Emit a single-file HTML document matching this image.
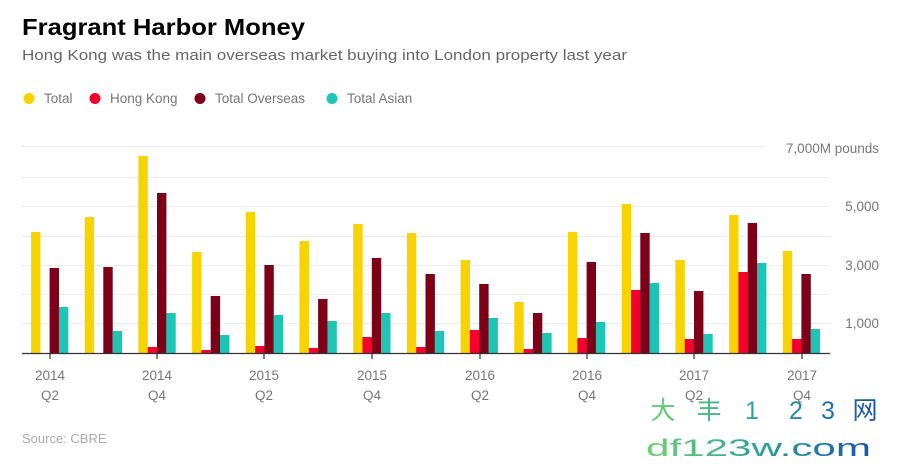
<!DOCTYPE html>
<html><head><meta charset="utf-8"><style>
html,body{margin:0;padding:0;background:#fff;width:899px;height:471px;overflow:hidden}
svg{display:block;font-family:"Liberation Sans","Noto Sans CJK SC",sans-serif}
</style></head><body>
<svg width="899" height="471" viewBox="0 0 899 471" xmlns="http://www.w3.org/2000/svg">
<defs><linearGradient id="wg" x1="645" x2="880" y1="0" y2="0" gradientUnits="userSpaceOnUse"><stop offset="0" stop-color="#6fd36a"/><stop offset="0.5" stop-color="#2aa0a0"/><stop offset="1" stop-color="#1a4fb0"/></linearGradient></defs>
<text x="22" y="35" font-size="23" font-weight="bold" fill="#000" textLength="283" lengthAdjust="spacingAndGlyphs">Fragrant Harbor Money</text>
<text x="22" y="60" font-size="15" fill="#666" textLength="605" lengthAdjust="spacingAndGlyphs">Hong Kong was the main overseas market buying into London property last year</text>
<g font-size="13.5" fill="#777">
<circle cx="29" cy="98.5" r="5.5" fill="#f7d300"/><text x="44" y="103">Total</text>
<circle cx="95" cy="98.5" r="5.5" fill="#f5002d"/><text x="110" y="103">Hong Kong</text>
<circle cx="200" cy="98.5" r="5.5" fill="#7d0018"/><text x="215" y="103">Total Overseas</text>
<circle cx="332" cy="98.5" r="5.5" fill="#1cc5b4"/><text x="347" y="103">Total Asian</text>
</g>
<g stroke="#ececec" stroke-width="1">
<line x1="22" x2="765" y1="146.5" y2="146.5"/>
<line x1="22" x2="830" y1="177.5" y2="177.5"/>
<line x1="22" x2="830" y1="206.5" y2="206.5"/>
<line x1="22" x2="830" y1="236.5" y2="236.5"/>
<line x1="22" x2="830" y1="265.5" y2="265.5"/>
<line x1="22" x2="830" y1="294.5" y2="294.5"/>
<line x1="22" x2="830" y1="323.5" y2="323.5"/>
</g>
<g font-size="13.5" fill="#777" text-anchor="end">
<text x="879" y="153">7,000M pounds</text>
<text x="879" y="211">5,000</text>
<text x="879" y="270">3,000</text>
<text x="879" y="328">1,000</text>
</g>
<g id="bars"></g>
<line x1="22" x2="830" y1="353.5" y2="353.5" stroke="#333" stroke-width="1.2"/>
<g stroke="#333" stroke-width="1.2">
<line x1="50" x2="50" y1="353" y2="359"/><line x1="157" x2="157" y1="353" y2="359"/>
<line x1="264" x2="264" y1="353" y2="359"/><line x1="372" x2="372" y1="353" y2="359"/>
<line x1="480" x2="480" y1="353" y2="359"/><line x1="587" x2="587" y1="353" y2="359"/>
<line x1="694" x2="694" y1="353" y2="359"/><line x1="802" x2="802" y1="353" y2="359"/>
</g>
<g font-size="13.5" fill="#777" text-anchor="middle">
<text x="50" y="380">2014</text><text x="50" y="400">Q2</text>
<text x="157" y="380">2014</text><text x="157" y="400">Q4</text>
<text x="264" y="380">2015</text><text x="264" y="400">Q2</text>
<text x="372" y="380">2015</text><text x="372" y="400">Q4</text>
<text x="480" y="380">2016</text><text x="480" y="400">Q2</text>
<text x="587" y="380">2016</text><text x="587" y="400">Q4</text>
<text x="694" y="380">2017</text><text x="694" y="400">Q2</text>
<text x="802" y="380">2017</text><text x="802" y="400">Q4</text>
</g>
<text x="22" y="443" font-size="13" fill="#aaa">Source: CBRE</text>
<g font-size="25" fill="url(#wg)" text-anchor="middle">
<text x="663" y="419">大</text><text x="709" y="419">丰</text><text x="752" y="419">1</text><text x="796" y="419">2</text><text x="828" y="419">3</text><text x="865" y="419">网</text>
</g>
<text x="646" y="456" font-size="24" fill="url(#wg)" textLength="225" lengthAdjust="spacingAndGlyphs">df123w.com</text>
</svg>
<script>
var tops=[[232,353,268,307],[217,353,267,331],[156,347,193,313],[252,350,296,335],[212,346,265,315],[241,348,299,321],[224,337,258,313],[233,347,274,331],[260,330,284,318],[302,349,313,333],[232,338,262,322],[204,290,233,283],[260,339,291,334],[215,272,223,263],[251,339,274,329]];
var cols=["#f7d300","#f5002d","#7d0018","#1cc5b4"],s="";
for(var i=0;i<15;i++){var c=50+53.7*i;for(var j=0;j<4;j++){var x=c-19+j*9.3,t=tops[i][j];if(t<353)s+='<rect x="'+x.toFixed(1)+'" y="'+t+'" width="9.4" height="'+(353.5-t)+'" fill="'+cols[j]+'"/>';}}
document.getElementById("bars").innerHTML=s;
</script>
</body></html>
